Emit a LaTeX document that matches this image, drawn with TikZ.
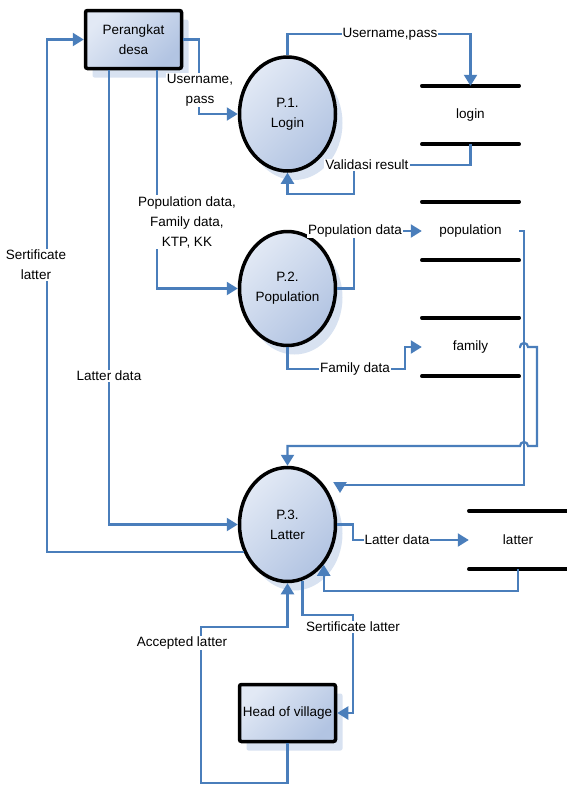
\documentclass[tikz,border=0pt]{standalone}
\usepackage{fontspec}
\setmainfont{Liberation Sans}
\usetikzlibrary{arrows.meta,shapes.geometric,shadows}

\definecolor{flowblue}{RGB}{74,126,187}
\definecolor{shadeblue}{RGB}{216,226,241}
\definecolor{lightfill}{RGB}{226,233,245}
\definecolor{darkfill}{RGB}{178,196,226}

\tikzset{
  flow/.style={draw=flowblue, line width=2.2pt, -{Triangle[length=11pt,width=13pt]}},
  lbl/.style={fill=white, inner sep=1pt, align=center},
  proc/.style={ellipse, draw=black, line width=3.5pt, minimum width=96pt,
    minimum height=114pt, inner sep=0pt, align=center,
    top color=lightfill, bottom color=darkfill, shading angle=45,
    general shadow={fill=shadeblue, shadow xshift=7pt, shadow yshift=-9pt}},
  entity/.style={rectangle, rounded corners=2pt, draw=black, line width=3.5pt,
    minimum width=96pt, minimum height=58pt, inner sep=2pt, align=center,
    top color=lightfill, bottom color=darkfill, shading angle=45,
    general shadow={fill=shadeblue, shadow xshift=7pt, shadow yshift=-9pt}},
  store/.style={minimum width=97pt, minimum height=58pt, inner sep=0pt},
  storeline/.style={line width=3.5pt, line cap=round}
}

\begin{document}
\begin{tikzpicture}[x=1pt,y=-1pt,font=\fontsize{13.5}{20}\selectfont]
  \useasboundingbox (0,0) rectangle (566,785);

  \node[entity] (desa) at (133.5,39.5) {Perangkat\\desa};
  \node[proc] (p1) at (287.5,114) {P.1.\\Login};
  \node[proc] (p2) at (287.5,288.5) {P.2.\\Population};
  \node[proc] (p3) at (287.5,524.5) {P.3.\\Latter};
  \node[entity, minimum height=57pt] (head) at (287.5,713) {Head of village};

  \node[store] (login) at (470.5,115) {login};
  \node[store] (pop) at (470.5,231) {population};
  \node[store] (fam) at (470.5,347) {family};
  \node[store, minimum width=98pt] (lat) at (518,540) {latter};
  \foreach \s in {login,pop,fam,lat} {
    \draw[storeline] (\s.north west) -- (\s.north east);
    \draw[storeline] (\s.south west) -- (\s.south east);
  }

  \coordinate (p3r) at (340,493);

  % user side
  \draw[flow] (p3.212) -| ([xshift=-37pt]desa.west) -- (desa.west);
  \node[lbl] at (36,265) {Sertificate\\latter};
  \draw[flow] ([xshift=-24.5pt]desa.south) |- (p3.west);
  \node[lbl] at (109,376) {Latter data};
  \draw[flow] ([xshift=23.5pt]desa.south) |- (p2.west);
  \node[lbl] at (187,222) {Population data,\\Family data,\\KTP, KK};
  \draw[flow] (desa.east) -| ([xshift=-39pt]p1.west) -- (p1.west);
  \node[lbl] at (200,90) {Username,\\pass};

  % login
  \draw[flow] (p1.north) |- ([yshift=52pt]login.north) -- (login.north);
  \node[lbl] at (390,34) {Username,pass};
  \draw[flow] (login.south) -- ++(0,21) -| (354,194) -| (p1.south);
  \node[lbl] at (367,165) {Validasi result};

  % population
  \draw[flow] (p2.east) -| (354,231) -- (pop.west);
  \node[lbl] at (355,231) {Population data};
  \draw[flow] (p2.south) |- (405,369) |- (fam.west);
  \node[lbl] at (355,369) {Family data};

  % stores to latter
  \draw[flow] (pop.east) -| (524,485) -| (p3r);
  \draw[flow] (fam.east) -- (520,347) arc[start angle=180,end angle=0,radius=4pt]
    -- (537,347) -- (537,446) -- (528,446) arc[start angle=0,end angle=180,radius=4pt]
    -| (p3.north);

  % latter
  \draw[flow] (p3.east) -| (353,540) -- (lat.west);
  \node[lbl] at (397,540) {Latter data};
  \draw[flow] (lat.south) -- ++(0,22) -| (p3.312);

  % head of village
  \draw[flow] (head.south) -- ++(0,40) -| (201,627) -| (p3.south);
  \node[lbl] at (182,643) {Accepted latter};
  \draw[flow] (p3.285) |- (353,615) |- (head.east);
  \node[lbl] at (353,627) {Sertificate latter};
\end{tikzpicture}
\end{document}
